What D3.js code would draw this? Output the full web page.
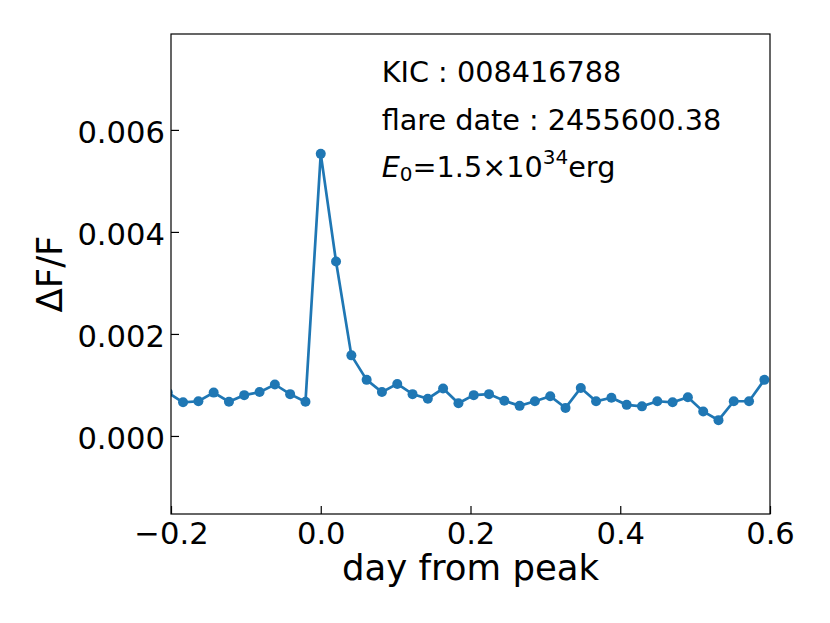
<!DOCTYPE html>
<html lang="en">
    <head>
        <meta charset="utf-8">
        <title>Flare light curve</title>
        <script src="https://d3js.org/d3.v7.min.js"></script>
        <style>
            body { margin: 0; background: #fff; }
            text { font-family: "DejaVu Sans", sans-serif; fill: #000; }
        </style>
    </head>
    <body>
        <div id="dataviz"></div>
        <script>
            // days from flare peak (Kepler long cadence)
            var days = [-0.2043, -0.1839, -0.1634, -0.1430, -0.1226, -0.1022, -0.0817, -0.0613, -0.0409, -0.0204,
                        0.0000, 0.0204, 0.0409, 0.0613, 0.0817, 0.1022, 0.1226, 0.1430, 0.1634, 0.1839,
                        0.2043, 0.2247, 0.2452, 0.2656, 0.2860, 0.3065, 0.3269, 0.3473, 0.3677, 0.3882,
                        0.4086, 0.4290, 0.4495, 0.4699, 0.4903, 0.5108, 0.5312, 0.5516, 0.5720, 0.5925];
            // relative flux dF/F
            var flux = [0.00085, 0.00066, 0.00068, 0.00085, 0.00067, 0.00080, 0.00086, 0.00101, 0.00082, 0.00067,
                        0.00553, 0.00342, 0.00158, 0.00110, 0.00086, 0.00102, 0.00082, 0.00073, 0.00093, 0.00064,
                        0.00080, 0.00082, 0.00069, 0.00059, 0.00068, 0.00078, 0.00055, 0.00094, 0.00068, 0.00075,
                        0.00061, 0.00058, 0.00068, 0.00066, 0.00076, 0.00048, 0.00031, 0.00068, 0.00068, 0.00110];
            var xTicks = [-0.2, 0.0, 0.2, 0.4, 0.6];
            var yTicks = [0.000, 0.002, 0.004, 0.006];
            var infoLines = ["KIC : 008416788", "flare date : 2455600.38"];

            var margin = {top: 34, right: 60, bottom: 109, left: 171},
                width = 770 - margin.left,
                height = 514 - margin.top;

            var svg = d3.select("#dataviz")
                        .append("svg")
                        .attr("width", 830)
                        .attr("height", 623)
                        .append("g")
                        .attr("transform", "translate(" + margin.left + "," + margin.top + ")");

            var x = d3.scaleLinear().domain([-0.2, 0.6]).range([0, width]);
            var y = d3.scaleLinear().domain([-0.00153, 0.00788]).range([height, 0]);

            svg.append("clipPath").attr("id", "clip")
                .append("rect").attr("width", width).attr("height", height);

            var data = days.map(function(d, i) { return {day: d, flux: flux[i]}; });

            var plot = svg.append("g").attr("clip-path", "url(#clip)");

            plot.append("path")
                .datum(data)
                .attr("fill", "none")
                .attr("stroke", "#1f77b4")
                .attr("stroke-width", 2.7)
                .attr("d", d3.line()
                    .x(function(d) { return x(d.day); })
                    .y(function(d) { return y(d.flux); }));

            plot.selectAll("circle")
                .data(data)
                .enter()
                .append("circle")
                .attr("cx", function(d) { return x(d.day); })
                .attr("cy", function(d) { return y(d.flux); })
                .attr("r", 5)
                .attr("fill", "#1f77b4");

            // axes with inward ticks
            var xAxis = svg.append("g")
                .attr("transform", "translate(0," + height + ")")
                .call(d3.axisBottom(x).tickValues(xTicks).tickFormat(d3.format(".1f"))
                      .tickSizeInner(-8).tickSizeOuter(0).tickPadding(8));
            var yAxis = svg.append("g")
                .call(d3.axisLeft(y).tickValues(yTicks).tickFormat(d3.format(".3f"))
                      .tickSizeInner(-8).tickSizeOuter(0).tickPadding(6));

            [xAxis, yAxis].forEach(function(a) {
                a.select(".domain").remove();
                a.selectAll("line").attr("stroke", "#000").attr("stroke-width", 1.2);
                a.selectAll("text").style("font-size", "30.6px")
                    .style("font-family", "'DejaVu Sans', sans-serif").attr("fill", "#000");
            });
            yAxis.selectAll("text").attr("dy", "0.41em");

            svg.append("rect")
                .attr("width", width).attr("height", height)
                .attr("fill", "none").attr("stroke", "#000").attr("stroke-width", 1.2);

            // axis labels
            svg.append("text")
                .attr("x", width / 2).attr("y", 580 - margin.top)
                .attr("text-anchor", "middle")
                .style("font-size", "35.5px")
                .text("day from peak");

            svg.append("text")
                .attr("transform", "translate(" + (62 - margin.left) + "," + (height / 2) + ") rotate(-90)")
                .attr("text-anchor", "middle")
                .style("font-size", "35.5px")
                .text("\u0394F/F");

            // annotation
            var tx = 381.7 - margin.left;
            svg.selectAll(".info")
                .data(infoLines)
                .enter()
                .append("text")
                .attr("class", "info")
                .attr("x", tx)
                .attr("y", function(d, i) { return 81.7 + i * 48.3 - margin.top; })
                .style("font-size", "28.7px")
                .text(function(d) { return d; });

            var e0 = svg.append("text")
                .attr("x", tx).attr("y", 176.7 - margin.top)
                .style("font-size", "28.7px");
            e0.append("tspan").style("font-style", "italic").text("E");
            e0.append("tspan").attr("dy", 4).style("font-size", "20px").text("0");
            e0.append("tspan").attr("dy", -4).text("=1.5\u00d710");
            e0.append("tspan").attr("dy", -13).style("font-size", "20px").text("34");
            e0.append("tspan").attr("dy", 13).text("erg");
        </script>
    </body>
</html>
